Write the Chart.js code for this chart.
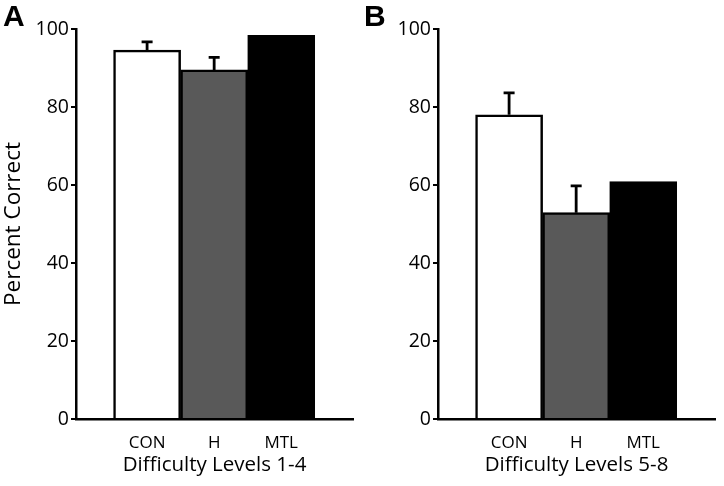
<!DOCTYPE html>
<html>
<head>
<meta charset="utf-8">
<script src="https://cdn.jsdelivr.net/npm/chart.js@4.4.1/dist/chart.umd.min.js"></script>
<style>
  html, body { margin: 0; padding: 0; background: #fff; }
  #wrap { position: relative; width: 724px; height: 486px; }
  .panel { position: absolute; top: 0; width: 362px; height: 486px; }
  .letter { position: absolute; top: -1px; font: bold 30px "Liberation Sans", Arial, sans-serif; color: #000; }
</style>
</head>
<body>
<div id="wrap">
  <div class="panel" style="left:0"><canvas id="canvasA" width="362" height="486"></canvas></div>
  <div class="panel" style="left:362px"><canvas id="canvasB" width="362" height="486"></canvas></div>
  <div class="letter" style="left:3px">A</div>
  <div class="letter" style="left:364px">B</div>
</div>
<script>
'use strict'

// groups on the x axis
const groups = [ 'CON', 'H', 'MTL' ];
const barColors = [ '#ffffff', '#595959', '#000000' ];

// difficulty levels 1-4
const levelsLow = [ 94.6, 89.5, 98.4 ];
const errorsLow = [ 2.1, 3.2, 0 ];

// difficulty levels 5-8
const levelsHigh = [ 78.0, 52.9, 60.9 ];
const errorsHigh = [ 5.6, 6.9, 0 ];

const yTicks = [ 0, 20, 40, 60, 80, 100 ];

const FONT = 'Open Sans';

  /////////////////////////////////////
 // error bars (only the upper arm) //
/////////////////////////////////////

const errorBarPlugin = {
  id: 'errorBars',
  afterDatasetsDraw( chart, args, opts ) {
    const ctx = chart.ctx;
    const yScale = chart.scales.y;
    const meta = chart.getDatasetMeta(0);
    const values = chart.data.datasets[0].data;

    ctx.save();
    ctx.strokeStyle = '#000';
    ctx.lineWidth = 2.8;

    meta.data.forEach(( bar, i ) => {
      const err = opts.errors[i];
      if( !err ) return;
      const top = yScale.getPixelForValue( values[i].y + err );
      ctx.beginPath();
      ctx.moveTo( bar.x, bar.y );
      ctx.lineTo( bar.x, top );
      ctx.moveTo( bar.x - 5.5, top );
      ctx.lineTo( bar.x + 5.5, top );
      ctx.stroke();
    });
    ctx.restore();
  }
};

/**
 * 
 * @param {String} id canvas id
 * @param {Array} values 
 * @param {Array} errors 
 * @param {String} xTitle 
 * @param {String} yTitle leer wenn kein Titel
 */
const makeChart = ( id, values, errors, xTitle, yTitle ) => {

  new Chart(
    document.getElementById( id ),
    {
      type: 'bar',
      data: {
        datasets: [{
          data: values.map(( v, i ) => ({ x: i + 1, y: v })),
          backgroundColor: barColors,
          borderColor: '#000',
          borderWidth: 2.5,
          barPercentage: 1,
          categoryPercentage: 1
        }]
      },
      options: {
        responsive: false,
        animation: false,
        events: [],
        layout: { padding: { top: 29, right: 9, left: 0, bottom: 0 } },
        plugins: {
          legend: { display: false },
          tooltip: { enabled: false },
          errorBars: { errors: errors }
        },
        scales: {
          x: {
            type: 'linear',
            offset: false,
            min: -0.06,
            max: 4.07,
            afterBuildTicks: scale => {
              scale.ticks = groups.map(( g, i ) => ({ value: i + 1 }));
            },
            afterFit: scale => { scale.height = 67; },
            grid: { display: false, drawTicks: false },
            border: { color: '#000', width: 2.5 },
            ticks: {
              padding: 14,
              color: '#000',
              font: { family: FONT, size: 17 },
              callback: value => groups[ value - 1 ]
            },
            title: {
              display: true,
              text: xTitle,
              color: '#000',
              font: { family: FONT, size: 20.5 },
              padding: { top: 0, bottom: 9 }
            }
          },
          y: {
            min: 0,
            max: 100,
            afterBuildTicks: scale => {
              scale.ticks = yTicks.map( v => ({ value: v }));
            },
            afterFit: scale => { scale.width = 76; },
            grid: { drawOnChartArea: false, tickLength: 5, color: '#000', lineWidth: 2 },
            border: { color: '#000', width: 2.5 },
            ticks: {
              padding: 2,
              color: '#000',
              font: { family: FONT, size: 19.5 }
            },
            title: {
              display: yTitle !== '',
              text: yTitle,
              color: '#000',
              font: { family: FONT, size: 22.5 },
              padding: 0
            }
          }
        }
      },
      plugins: [ errorBarPlugin ]
    }
  );
}

makeChart( 'canvasA', levelsLow, errorsLow, 'Difficulty Levels 1-4', 'Percent Correct' );
makeChart( 'canvasB', levelsHigh, errorsHigh, 'Difficulty Levels 5-8', '' );
</script>
</body>
</html>
